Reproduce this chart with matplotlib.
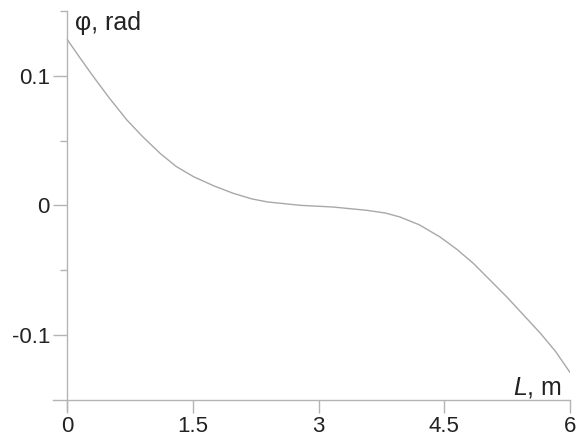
import matplotlib
matplotlib.use("Agg")
import matplotlib.pyplot as plt
from matplotlib.ticker import FixedLocator

plt.rcParams['font.family'] = ['Liberation Sans', 'DejaVu Sans']
plt.rcParams['mathtext.fontset'] = 'custom'
plt.rcParams['mathtext.rm'] = 'Liberation Sans'
plt.rcParams['mathtext.it'] = 'Liberation Sans:italic'

# data
L_m = [0.0, 0.15, 0.31, 0.5, 0.71, 0.9, 1.11, 1.3, 1.51, 1.75, 1.98, 2.2, 2.39, 2.78,
       3.17, 3.58, 3.8, 3.97, 4.2, 4.45, 4.65, 4.85, 5.05, 5.25, 5.45, 5.65, 5.83, 6.0]
phi_rad = [0.128, 0.114, 0.0995, 0.083, 0.066, 0.053, 0.040, 0.030, 0.022, 0.015, 0.0093,
           0.005, 0.0026, 0.0, -0.0013, -0.0039, -0.006, -0.009, -0.015, -0.0245, -0.034,
           -0.045, -0.058, -0.071, -0.085, -0.099, -0.113, -0.129]
x_ticks = [0, 1.5, 3, 4.5, 6]
x_tick_labels = ['0', '1.5', '3', '4.5', '6']
y_ticks = [-0.1, 0, 0.1]
y_tick_labels = ['-0.1', '0', '0.1']
y_minor = [-0.05, 0.05, 0.15]

axis_col = '#b4b4b4'
text_col = '#222222'

fig = plt.figure(figsize=(5.8, 4.37), dpi=100)
ax = fig.add_axes([53/580, 27/437, 517/580, 399/437])

ax.plot(L_m, phi_rad, color='#a8a8a8', lw=1.0, solid_capstyle='round', solid_joinstyle='round')

ax.set_xlim(-0.17, 6.0)
ax.set_ylim(-0.158, 0.15)

ax.spines['left'].set_position(('data', 0))
ax.spines['bottom'].set_position(('data', -0.15))
for s in ['top', 'right']:
    ax.spines[s].set_visible(False)
for s in ['left', 'bottom']:
    ax.spines[s].set_color(axis_col)
    ax.spines[s].set_linewidth(1.0)

ax.set_xticks(x_ticks)
ax.set_xticklabels(x_tick_labels)
ax.set_yticks(y_ticks)
ax.set_yticklabels(y_tick_labels)
ax.yaxis.set_minor_locator(FixedLocator(y_minor))

ax.tick_params(axis='both', which='major', direction='out', color=axis_col, width=1.0,
               labelsize=16, labelcolor=text_col)
ax.tick_params(axis='y', which='major', length=10, pad=2.5)
ax.tick_params(axis='x', which='major', length=9, pad=3)
ax.tick_params(axis='y', which='minor', length=5, color=axis_col, width=1.0)

ax.text(0.095, 0.1357, 'φ, rad', fontsize=18, color=text_col, ha='left', va='baseline')
ax.text(5.90, -0.146, '$L$, m', fontsize=18, color=text_col, ha='right', va='baseline')

fig.savefig('out.png', dpi=100)
